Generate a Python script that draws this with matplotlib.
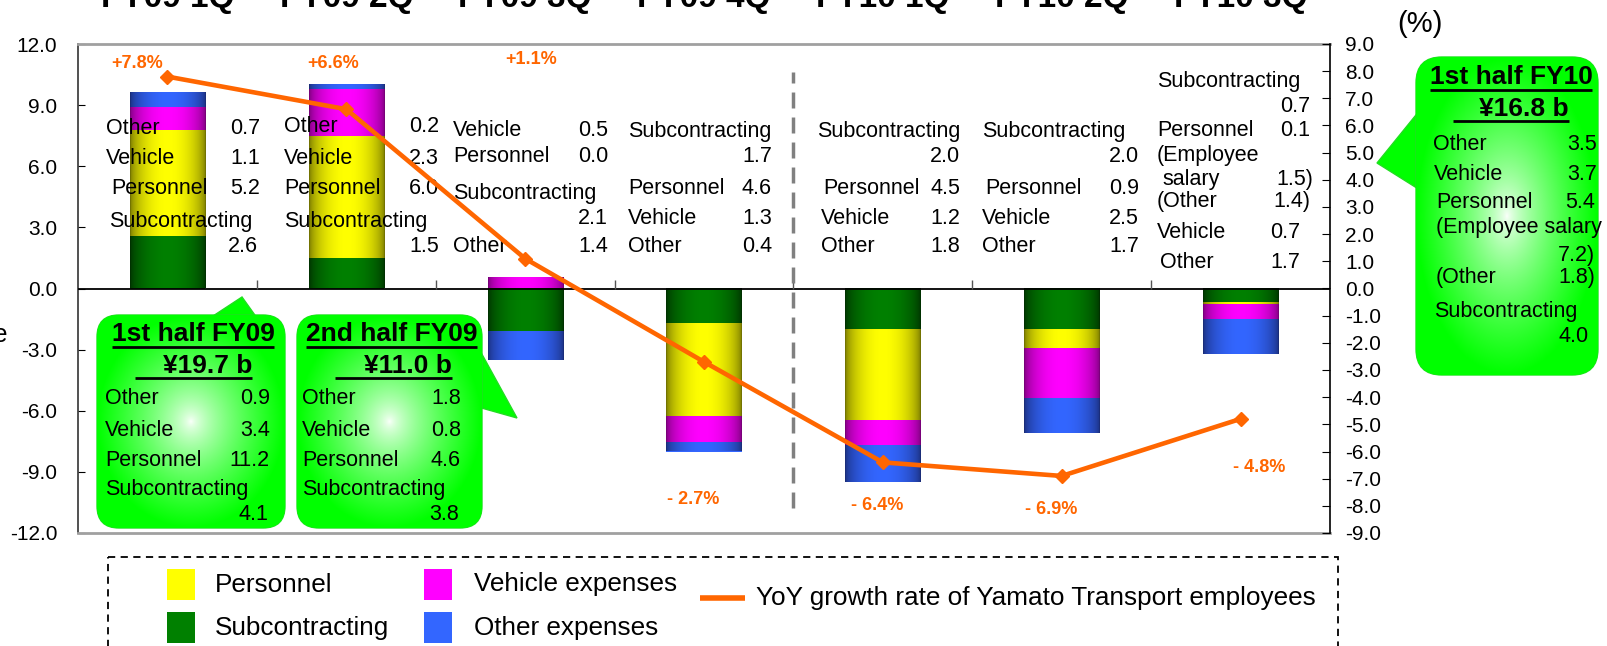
import numpy as np
import matplotlib
matplotlib.use("Agg")
import matplotlib.pyplot as plt
from matplotlib.patches import Rectangle, FancyBboxPatch, Polygon
from matplotlib.colors import to_rgb

plt.rcParams['font.family'] = ['Liberation Sans', 'DejaVu Sans']

# ---------------- data ----------------
categories = ["FY09 1Q", "FY09 2Q", "FY09 3Q", "FY09 4Q", "FY10 1Q", "FY10 2Q", "FY10 3Q"]
subcontracting = [2.6, 1.5, -2.1, -1.7, -2.0, -2.0, -0.7]
personnel = [5.2, 6.0, 0.0, -4.6, -4.5, -0.9, -0.1]
vehicle = [1.1, 2.3, 0.5, -1.3, -1.2, -2.5, -0.7]
other = [0.7, 0.2, -1.4, -0.4, -1.8, -1.7, -1.7]
employees_yoy = [7.8, 6.6, 1.1, -2.7, -6.4, -6.9, -4.8]
left_ticks = [-12.0, -9.0, -6.0, -3.0, 0.0, 3.0, 6.0, 9.0, 12.0]
right_ticks = [-9.0, -8.0, -7.0, -6.0, -5.0, -4.0, -3.0, -2.0, -1.0, 0.0,
               1.0, 2.0, 3.0, 4.0, 5.0, 6.0, 7.0, 8.0, 9.0]
series_names = ["Subcontracting", "Personnel", "Vehicle expenses", "Other expenses"]
series_values = [subcontracting, personnel, vehicle, other]
series_colors = ['#008000', '#FFFF00', '#FF00FF', '#3366FF']
series_dark = ['#003000', '#727200', '#780078', '#1a2d78']
line_color = '#FF6600'
line_label = "YoY growth rate of Yamato Transport employees"

W, H = 1608, 646
fig = plt.figure(figsize=(W / 100, H / 100), dpi=100)
ax = fig.add_axes([78 / W, 1 - 533 / H, (1330 - 78) / W, (533 - 44) / H])
ax.set_zorder(1)
ax2 = ax.twinx()
ax2.set_zorder(3)
ax2.patch.set_visible(False)

x = np.arange(len(categories))
t = np.linspace(0, 1, 80)
prof = np.sin(np.pi * t) ** 0.55

pos_bottom = np.zeros(len(categories))
neg_bottom = np.zeros(len(categories))
for vals, base, dark in zip(series_values, series_colors, series_dark):
    v = np.array(vals, dtype=float)
    bottoms = np.where(v >= 0, pos_bottom, neg_bottom)
    bars = ax.bar(x, v, width=0.42, bottom=bottoms, color=base, linewidth=0, zorder=2)
    pos_bottom += np.clip(v, 0, None)
    neg_bottom += np.clip(v, None, 0)
    b = np.array(to_rgb(base)); d = np.array(to_rgb(dark))
    grad = (d[None, :] + (b - d)[None, :] * prof[:, None])[None, :, :]
    for r in bars:
        h = r.get_height()
        if abs(h) < 1e-9:
            continue
        x0, y0, w = r.get_x(), r.get_y(), r.get_width()
        ax.imshow(grad, extent=(x0, x0 + w, y0, y0 + h), aspect='auto',
                  interpolation='bilinear', zorder=2.5)

ax.axhline(0, color='black', lw=1.3, zorder=3)
ax.vlines(np.arange(0.5, len(categories) - 0.5, 1.0), 0, 0.4, color='#555555', lw=1, zorder=3)
ax.axvline(3.5, ymin=0.051, ymax=0.943, color='#808080', lw=2.5, dashes=(4.6, 2.6), zorder=3)

ax.set_xlim(-0.5, len(categories) - 0.5)
ax.set_ylim(-12, 12)
ax.set_xticks([])
ax.set_yticks(left_ticks)
ax.set_yticklabels([f"{v:.1f}" for v in left_ticks])
ax.tick_params(axis='y', direction='in', length=5, labelsize=15, pad=15)
ax.spines['top'].set_color('#a0a0a0'); ax.spines['top'].set_linewidth(2)
ax.spines['bottom'].set_color('#a0a0a0'); ax.spines['bottom'].set_linewidth(2)
ax.spines['left'].set_color('#333333'); ax.spines['left'].set_linewidth(1.2)
ax.spines['right'].set_visible(False)

ax2.plot(x, employees_yoy, color=line_color, lw=3.3, marker='D', ms=7, zorder=4)
ax2.set_ylim(-9, 9)
ax2.set_yticks(right_ticks)
ax2.set_yticklabels([f"{v:.1f}" for v in right_ticks])
ax2.tick_params(axis='y', direction='in', length=6, labelsize=15, pad=11)
for s in ['top', 'bottom', 'left']:
    ax2.spines[s].set_visible(False)
ax2.spines['right'].set_color('black'); ax2.spines['right'].set_linewidth(1.2)

# ---------------- overlay (pixel coordinates) ----------------
ov = fig.add_axes([0, 0, 1, 1])
ov.set_zorder(2)
ov.patch.set_visible(False)
ov.axis('off')
ov.set_xlim(0, W)
ov.set_ylim(H, 0)
renderer = fig.canvas.get_renderer()

FS = 15.5

def txt(xp, yp, s, ha='left', size=FS, **kw):
    return ov.text(xp, yp, s, ha=ha, va='center', fontsize=size, color='black', **kw)

def pair(xl, xr, yp, lab, val):
    txt(xl, yp, lab)
    txt(xr, yp, val, ha='right')

def uline(x0, x1, yp):
    ov.plot([x0, x1], [yp, yp], color='black', lw=2, zorder=4, solid_capstyle='butt')

def text_span(tobj):
    bb = tobj.get_window_extent(renderer=renderer)
    return bb.x0, bb.x1

# category labels at top (cut off)
for i, c in enumerate(categories):
    cx = 78 + (i + 0.5) * (1330 - 78) / len(categories)
    ov.text(cx, 7, c, ha='center', va='baseline', fontsize=24, fontweight='bold')

# line value labels
pct_pos = [(137, 64), (333, 64), (531, 60), (693, 499), (877, 506), (1051, 510), (1259, 467)]
for v, (px, py) in zip(employees_yoy, pct_pos):
    s = f"+{v:.1f}%" if v > 0 else f"- {abs(v):.1f}%"
    ov.text(px, py, s, ha='center', va='center', fontsize=13, fontweight='bold', color=line_color)

# in-plot breakdown annotations
# FY09 1Q
pair(106, 260, 128, "Other", "0.7"); pair(106, 260, 159, "Vehicle", "1.1")
pair(111, 260, 189, "Personnel", "5.2"); txt(109, 221, "Subcontracting"); txt(258, 247, "2.6", ha='right')
# FY09 2Q
pair(284, 439, 127, "Other", "0.2"); pair(284, 439, 158, "Vehicle", "2.3")
pair(284, 439, 189, "Personnel", "6.0"); txt(284, 221, "Subcontracting"); txt(439, 247, "1.5", ha='right')
# FY09 3Q
pair(453, 608, 131, "Vehicle", "0.5"); pair(453, 608, 157, "Personnel", "0.0")
txt(453, 193, "Subcontracting"); txt(608, 218, "2.1", ha='right'); pair(453, 608, 247, "Other", "1.4")
# FY09 4Q
txt(628, 131, "Subcontracting"); txt(772, 157, "1.7", ha='right'); pair(628, 772, 189, "Personnel", "4.6")
pair(628, 772, 218, "Vehicle", "1.3"); pair(628, 772, 247, "Other", "0.4")
# FY10 1Q
txt(817, 132, "Subcontracting"); txt(960, 157, "2.0", ha='right'); pair(823, 960, 189, "Personnel", "4.5")
pair(821, 960, 218, "Vehicle", "1.2"); pair(821, 960, 247, "Other", "1.8")
# FY10 2Q
txt(982, 132, "Subcontracting"); txt(1139, 157, "2.0", ha='right'); pair(985, 1139, 189, "Personnel", "0.9")
pair(982, 1139, 218, "Vehicle", "2.5"); pair(982, 1139, 247, "Other", "1.7")
# FY10 3Q
txt(1157, 81, "Subcontracting"); txt(1310, 107, "0.7", ha='right'); pair(1157, 1310, 130, "Personnel", "0.1")
txt(1157, 155, "(Employee"); pair(1162, 1313, 179, "salary", "1.5)"); pair(1157, 1310, 202, "(Other", "1.4)")
pair(1157, 1300, 233, "Vehicle", "0.7"); pair(1160, 1300, 263, "Other", "1.7")

# ---------------- callout boxes ----------------
def callout(left, top, right, bottom, radius, pointer):
    tri = Polygon(pointer, closed=True, facecolor='#00FF00', edgecolor='#22dd22', lw=1, zorder=1)
    ov.add_patch(tri)
    box = FancyBboxPatch((left, top), right - left, bottom - top,
                         boxstyle=f"round,pad=0,rounding_size={radius}",
                         facecolor='#00FF00', edgecolor='#22dd22', lw=1, zorder=2)
    ov.add_patch(box)
    gx = np.linspace(-1, 1, 200)
    X, Y = np.meshgrid(gx, gx)
    r = np.clip(np.sqrt(X ** 2 + Y ** 2), 0, 1)
    wgt = r ** 0.7
    white = np.array([1.0, 1.0, 1.0]); lime = np.array([0.0, 1.0, 0.0])
    img = (1 - wgt)[..., None] * white + wgt[..., None] * lime
    im = ov.imshow(img, extent=(left, right, bottom, top), aspect='auto', zorder=2.1,
                   interpolation='bilinear')
    im.set_clip_path(box)

def half_box(left, right, title, amount, rows, last, lab_x, val_x):
    cx = (left + right) / 2 + 2
    tt = ov.text(cx, 334, title, ha='center', va='center', fontsize=19, fontweight='bold')
    a, b = text_span(tt)
    uline(a, b, 347)
    ta = ov.text(left + 155, 366, amount, ha='right', va='center', fontsize=19, fontweight='bold')
    a, b = text_span(ta)
    uline(left + 38, b, 378)
    for (lab, val), yp in zip(rows, [399, 430, 460]):
        pair(lab_x, val_x, yp, lab, val)
    txt(lab_x, 490, "Subcontracting")
    txt(val_x - 2, 515, last, ha='right')

callout(97, 315, 285, 528, 22, [(210, 318), (242, 297), (257, 318)])
callout(297, 315, 482, 528, 22, [(478, 347), (517, 418), (478, 407)])
callout(1416, 57, 1598, 375, 26, [(1420, 110), (1377, 163), (1420, 190)])

half_box(97, 285, "1st half FY09", "¥19.7 b",
         [("Other", "0.9"), ("Vehicle", "3.4"), ("Personnel", "11.2")], "4.1", 105, 270)
half_box(297, 482, "2nd half FY09", "¥11.0 b",
         [("Other", "1.8"), ("Vehicle", "0.8"), ("Personnel", "4.6")], "3.8", 302, 461)

tt = ov.text(1511, 77, "1st half FY10", ha='center', va='center', fontsize=19, fontweight='bold')
a, b = text_span(tt)
uline(a, b, 90)
ta = ov.text(1569, 109, "¥16.8 b", ha='right', va='center', fontsize=19, fontweight='bold')
a, b = text_span(ta)
uline(1453, b, 121)
pair(1433, 1597, 145, "Other", "3.5")
pair(1434, 1597, 175, "Vehicle", "3.7")
pair(1436, 1595, 203, "Personnel", "5.4")
txt(1436, 228, "(Employee salary")
txt(1595, 255, "7.2)", ha='right')
pair(1436, 1595, 278, "(Other", "1.8)")
txt(1434, 311, "Subcontracting")
txt(1589, 336, "4.0", ha='right')

# ---------------- other texts ----------------
ov.text(1420, 24, "(%)", ha='center', va='center', fontsize=21)
ov.text(8, 335, "Change", ha='right', va='center', fontsize=18)

# ---------------- legend ----------------
ov.add_patch(Rectangle((108, 557), 1230, 130, fill=False, edgecolor='black', lw=1.3,
                       linestyle=(0, (4, 3)), zorder=3))
leg_pos = {"Personnel": (167, 569, 215), "Subcontracting": (167, 612, 215),
           "Vehicle expenses": (424, 569, 474), "Other expenses": (424, 612, 474)}
for name, col in zip(series_names, series_colors):
    rx, ry, tx = leg_pos[name]
    ov.add_patch(Rectangle((rx, ry), 28, 31, facecolor=col, edgecolor='none', zorder=3))
    ov.text(tx, ry + 15.5, name, ha='left', va='center', fontsize=18.8)
ov.plot([700, 745], [598, 598], color=line_color, lw=4, zorder=3, solid_capstyle='butt')
ov.text(756, 598, line_label, ha='left', va='center', fontsize=18.8)

ov.set_xlim(0, W)
ov.set_ylim(H, 0)

fig.savefig("out.png", dpi=100)
